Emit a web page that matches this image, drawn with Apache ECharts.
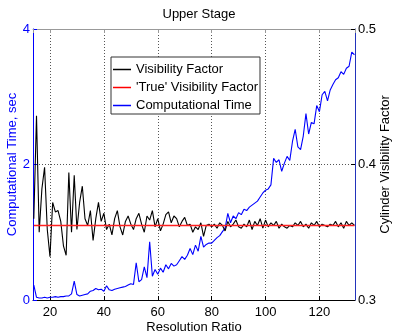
<!DOCTYPE html>
<html>
<head>
<meta charset="utf-8">
<script src="https://cdn.jsdelivr.net/npm/echarts@6/dist/echarts.min.js"></script>
<style>html,body{margin:0;padding:0;background:#fff}#c{width:394px;height:336px}</style>
</head>
<body>
<div id="c"></div>
<script>
const resolution = [];
for (let r = 14; r <= 133; r++) resolution.push(r);

const visibilityFactor = [
0.360,0.436,0.350,0.382,0.398,0.352,0.332,0.372,0.365,0.366,
0.358,0.340,0.333,0.394,0.350,0.392,0.352,0.372,0.384,0.360,
0.355,0.366,0.344,0.360,0.372,0.358,0.364,0.352,0.356,0.348,
0.360,0.366,0.354,0.348,0.358,0.362,0.356,0.352,0.360,0.364,
0.356,0.350,0.362,0.359,0.366,0.354,0.360,0.351,0.356,0.363,
0.365,0.357,0.362,0.360,0.354,0.358,0.361,0.355,0.356,0.350,
0.354,0.352,0.357,0.347,0.355,0.356,0.354,0.356,0.353,0.357,
0.355,0.351,0.358,0.354,0.356,0.359,0.354,0.353,0.356,0.354,
0.359,0.352,0.358,0.355,0.360,0.353,0.359,0.354,0.357,0.355,
0.358,0.353,0.356,0.354,0.353,0.355,0.354,0.357,0.355,0.358,
0.354,0.356,0.353,0.357,0.355,0.358,0.354,0.356,0.355,0.354,
0.356,0.355,0.358,0.354,0.357,0.353,0.358,0.355,0.357,0.355
];

const trueVisibilityFactor = 0.355;

const computationalTime = [
0.22,0.04,0.03,0.03,0.04,0.03,0.04,0.04,0.05,0.04,
0.05,0.05,0.06,0.06,0.09,0.28,0.08,0.06,0.07,0.08,
0.09,0.13,0.14,0.17,0.15,0.16,0.13,0.21,0.15,0.14,
0.16,0.17,0.18,0.19,0.20,0.22,0.24,0.23,0.55,0.27,
0.30,0.49,0.33,0.86,0.35,0.45,0.38,0.47,0.41,0.52,
0.46,0.54,0.50,0.52,0.58,0.64,0.60,0.66,0.76,0.67,
0.81,0.72,0.94,0.78,0.82,0.84,0.84,0.88,0.92,0.95,
1.01,1.06,1.28,1.14,1.24,1.20,1.29,1.26,1.34,1.32,
1.37,1.40,1.43,1.46,1.52,1.58,1.62,1.64,1.70,2.09,
2.03,2.07,1.90,2.02,2.12,2.06,2.34,2.52,2.26,2.22,
2.42,2.75,2.45,2.62,2.60,2.87,2.78,3.03,3.08,2.94,
3.10,3.18,3.25,3.28,3.37,3.33,3.42,3.45,3.66,3.62
];

const xTicks = [20, 40, 60, 80, 100, 120];
const leftTicks = [0, 2, 4];
const rightTicks = [0.3, 0.4, 0.5];

const FONT = 'Liberation Sans, Arial, sans-serif';
const chart = echarts.init(document.getElementById('c'), null, {renderer: 'canvas'});

const xMin = 13.7, xMax = 133.2;
const xFmt = v => (xTicks.indexOf(Math.round(v)) >= 0 && Math.abs(v - Math.round(v)) < 1e-6) ? String(Math.round(v)) : '';

chart.setOption({
  animation: false,
  backgroundColor: '#fff',
  title: {
    text: 'Upper Stage', left: 194, textAlign: 'center', top: 3,
    textStyle: {fontFamily: FONT, fontSize: 13, fontWeight: 'normal', color: '#000'}
  },
  legend: {
    data: ['Visibility Factor', "'True' Visibility Factor", 'Computational Time'],
    orient: 'vertical', left: 111, top: 57,
    icon: 'rect', itemWidth: 18, itemHeight: 1.5, itemGap: 5,
    padding: [6, 2, 2, 2],
    backgroundColor: '#fff', borderColor: '#333', borderWidth: 1,
    textStyle: {fontFamily: FONT, fontSize: 13, color: '#000', lineHeight: 13}
  },
  grid: {left: 33, right: 39, top: 29, bottom: 36, containLabel: false, outerBoundsMode: 'none'},
  xAxis: [{
    type: 'value', min: xMin, max: xMax, position: 'bottom',
    name: 'Resolution Ratio', nameLocation: 'middle', nameGap: 21, nameMoveOverlap: false,
    nameTextStyle: {fontFamily: FONT, fontSize: 13, color: '#000'},
    axisLine: {lineStyle: {color: '#000', width: 1}},
    axisTick: {inside: true, length: 4, lineStyle: {color: '#000'}},
    axisLabel: {fontFamily: FONT, fontSize: 13, color: '#000', margin: 6, formatter: xFmt, showMinLabel: false, showMaxLabel: false},
    splitLine: {show: true, lineStyle: {type: [1, 2], color: '#555', width: 1}}
  }, {
    type: 'value', min: xMin, max: xMax, position: 'top',
    axisLine: {lineStyle: {color: '#999', width: 1}},
    axisTick: {inside: true, length: 4, lineStyle: {color: '#999'}},
    axisLabel: {show: false}, splitLine: {show: false}
  }],
  yAxis: [{
    type: 'value', min: 0, max: 4, interval: 2, position: 'left',
    name: 'Computational Time, sec', nameLocation: 'middle', nameGap: 14, nameMoveOverlap: false,
    nameTextStyle: {fontFamily: FONT, fontSize: 13, color: '#0000ff'},
    axisLine: {show: true, lineStyle: {color: '#0000ff', width: 1}},
    axisTick: {show: true, inside: true, length: 4, lineStyle: {color: '#0000ff'}},
    axisLabel: {fontFamily: FONT, fontSize: 13, color: '#0000ff', margin: 3,
      formatter: v => leftTicks.indexOf(v) >= 0 ? String(v) : ''},
    splitLine: {show: true, lineStyle: {type: [1, 2], color: '#555', width: 1}}
  }, {
    type: 'value', min: 0.3, max: 0.5, interval: 0.1, position: 'right',
    name: 'Cylinder Visibility Factor', nameLocation: 'middle', nameGap: 24, nameMoveOverlap: false,
    nameTextStyle: {fontFamily: FONT, fontSize: 13, color: '#000'},
    axisLine: {show: true, lineStyle: {color: '#2233bb', width: 1}},
    axisTick: {show: true, inside: true, length: 4, lineStyle: {color: '#000'}},
    axisLabel: {fontFamily: FONT, fontSize: 13, color: '#000', margin: 3,
      formatter: v => { const r = Math.round(v * 10) / 10; return rightTicks.indexOf(r) >= 0 ? r.toFixed(1) : ''; }},
    splitLine: {show: false}
  }],
  series: [{
    name: 'Computational Time', type: 'line', xAxisIndex: 0, yAxisIndex: 0,
    data: resolution.map((r, i) => [r, computationalTime[i]]),
    symbol: 'none', color: '#0000ff', lineStyle: {color: '#0000ff', width: 1.1}, z: 2
  }, {
    name: 'Visibility Factor', type: 'line', xAxisIndex: 0, yAxisIndex: 1,
    data: resolution.map((r, i) => [r, visibilityFactor[i]]),
    symbol: 'none', color: '#000', lineStyle: {color: '#000', width: 1.1}, z: 3
  }, {
    name: "'True' Visibility Factor", type: 'line', xAxisIndex: 0, yAxisIndex: 1,
    data: resolution.map(r => [r, trueVisibilityFactor]),
    symbol: 'none', color: '#ff0000', lineStyle: {color: '#ff2020', width: 1.5}, z: 4
  }]
});
</script>
</body>
</html>
